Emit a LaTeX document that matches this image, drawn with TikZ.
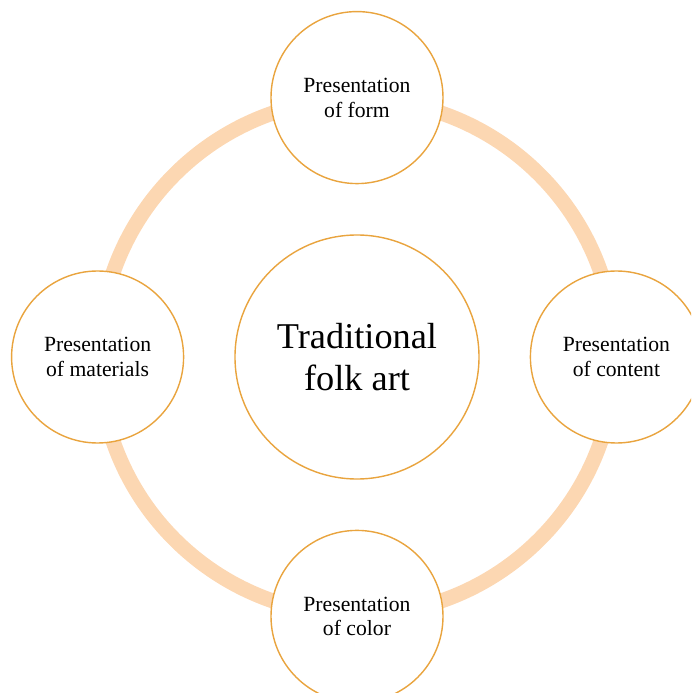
\documentclass[tikz,border=0pt]{standalone}
\usepackage{fontspec}
\setmainfont{Liberation Serif}
\usetikzlibrary{positioning}
\definecolor{ringpeach}{RGB}{252,215,178}
\definecolor{rimgold}{RGB}{233,164,62}

\begin{document}
\begin{tikzpicture}[
  aspect/.style={
    circle, draw=rimgold, line width=1.2pt, fill=white,
    minimum size=5.16cm, inner sep=0pt, align=center,
    font=\fontsize{18.5}{21.3}\selectfont,
  },
  core/.style={
    aspect, minimum size=7.32cm,
    font=\fontsize{31}{36}\selectfont,
  }]
  \useasboundingbox (-10.71,-10.08) rectangle (10.02,10.71);
  \clip (-10.71,-10.08) rectangle (10.02,10.71);
  \coordinate (O) at (0,0);
  \draw[ringpeach, line width=0.45cm] (O) circle (7.74);
  \node[core] (art) at (O) {Traditional\\folk art};
  \node[aspect, above=1.5cm of art] (form) {Presentation\\of form};
  \node[aspect, right=1.5cm of art] (content) {Presentation\\of content};
  \node[aspect, below=1.5cm of art] (color) {Presentation\\of color};
  \node[aspect, left=1.5cm of art] (materials) {Presentation\\of materials};
\end{tikzpicture}
\end{document}
